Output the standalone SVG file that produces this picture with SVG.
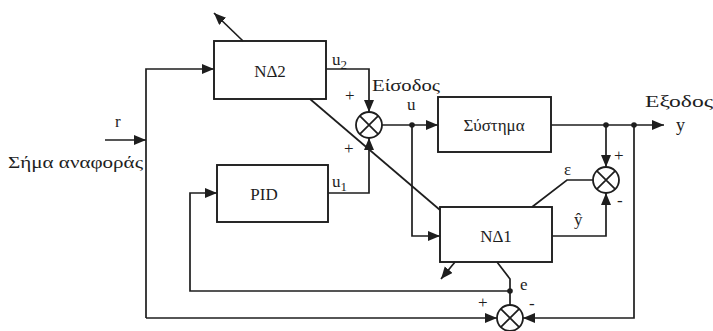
<svg xmlns="http://www.w3.org/2000/svg" width="713" height="331" viewBox="0 0 713 331">
<style>
.box{fill:none;stroke:#1e1e1e;stroke-width:1.9}
.ln{fill:none;stroke:#1e1e1e;stroke-width:1.7}
.sum{fill:#fff;stroke:#1e1e1e;stroke-width:1.8}
.t{font-family:"Liberation Serif","DejaVu Serif",serif;fill:#1e1e1e}
.c{text-anchor:middle}
</style>
<defs>
<marker id="a" markerUnits="userSpaceOnUse" markerWidth="14" markerHeight="12" refX="12" refY="5" orient="auto">
<path d="M0,0 L12,5 L0,10 z" fill="#1e1e1e"/>
</marker>
</defs>
<rect width="713" height="331" fill="#fff"/>
<g id="connectors">
<line class="ln" x1="105" y1="140" x2="146" y2="140" marker-end="url(#a)"/>
<path class="ln" d="M146,318 V69 H214" marker-end="url(#a)"/>
<path class="ln" d="M146,318 H497" marker-end="url(#a)"/>
<path class="ln" d="M326,69 H369 V112" marker-end="url(#a)"/>
<path class="ln" d="M328,193 H369 V138" marker-end="url(#a)"/>
<path class="ln" d="M382,125 H438" marker-end="url(#a)"/>
<path class="ln" d="M412,125 V236 H440" marker-end="url(#a)"/>
<path class="ln" d="M551,125 H664" marker-end="url(#a)"/>
<path class="ln" d="M606,125 V167" marker-end="url(#a)"/>
<path class="ln" d="M552,236 H606 V193" marker-end="url(#a)"/>
<path class="ln" d="M634,125 V318 H523" marker-end="url(#a)"/>
<path class="ln" d="M510,305 V279 L497,262"/>
<path class="ln" d="M510,291 H190 V193 H217" marker-end="url(#a)"/>
<path class="ln" d="M593,180 H567 L532,207"/>
<line class="ln" x1="455" y1="262" x2="441" y2="279" marker-end="url(#a)"/>
<line class="ln" x1="440" y1="210" x2="310" y2="99"/>
<line class="ln" x1="243" y1="41" x2="214" y2="13" marker-end="url(#a)"/>
<circle cx="412" cy="125" r="2.8" fill="#1e1e1e"/>
<circle cx="606" cy="125" r="2.8" fill="#1e1e1e"/>
<circle cx="634" cy="125" r="2.8" fill="#1e1e1e"/>
<circle cx="510" cy="291" r="2.8" fill="#1e1e1e"/>
</g>
<g id="nd2">
<rect class="box" x="214" y="41" width="112" height="58"/>
<text class="t c" x="270" y="77" font-size="17">NΔ2</text>
</g>
<g id="pid">
<rect class="box" x="217" y="165" width="111" height="57"/>
<text class="t c" x="264" y="200" font-size="17">PID</text>
</g>
<g id="system">
<rect class="box" x="438" y="97" width="113" height="55"/>
<text class="t c" x="494" y="131" font-size="17">Σύστημα</text>
</g>
<g id="nd1">
<rect class="box" x="440" y="207" width="112" height="55"/>
<text class="t c" x="496" y="242" font-size="17">NΔ1</text>
</g>
<g id="sum-u">
<circle class="sum" cx="369" cy="125" r="13"/>
<path class="ln" d="M359.8,115.8 L378.2,134.2 M378.2,115.8 L359.8,134.2"/>
</g>
<g id="sum-eps">
<circle class="sum" cx="606" cy="180" r="13"/>
<path class="ln" d="M596.8,170.8 L615.2,189.2 M615.2,170.8 L596.8,189.2"/>
</g>
<g id="sum-e">
<circle class="sum" cx="510" cy="318" r="13"/>
<path class="ln" d="M500.8,308.8 L519.2,327.2 M519.2,308.8 L500.8,327.2"/>
</g>
<g id="labels" class="t" font-size="17">
<text x="115" y="127">r</text>
<text x="8" y="168" textLength="135" lengthAdjust="spacingAndGlyphs">Σήμα αναφοράς</text>
<text x="332" y="65">u<tspan dy="4" font-size="13">2</tspan></text>
<text x="332" y="187">u<tspan dy="4" font-size="13">1</tspan></text>
<text x="372" y="91" textLength="68" lengthAdjust="spacingAndGlyphs">Είσοδος</text>
<text x="407" y="110">u</text>
<text x="345" y="101">+</text>
<text x="344" y="154">+</text>
<text x="645" y="107" textLength="68" lengthAdjust="spacingAndGlyphs">Εξοδος</text>
<text x="676" y="131" font-size="18">y</text>
<text x="614" y="161">+</text>
<text x="617" y="206">-</text>
<text x="564" y="175">ε</text>
<text x="574" y="225">ŷ</text>
<text x="520" y="290">e</text>
<text x="478" y="308">+</text>
<text x="529" y="309">-</text>
</g>
</svg>
